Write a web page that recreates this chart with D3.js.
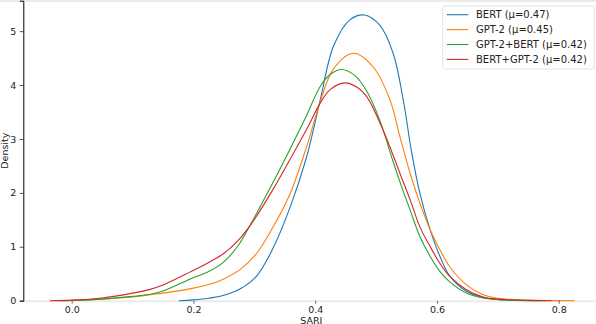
<!DOCTYPE html>
<html>
<head>
<meta charset="utf-8">
<script src="https://cdn.jsdelivr.net/npm/d3@7"></script>
<style>
  html, body { margin: 0; padding: 0; background: #ffffff; }
  svg { display: block; font-family: "DejaVu Sans", sans-serif; }
</style>
</head>
<body>
<div id="chart"></div>
<script>
// ---- data ----
const seriesNames = ["BERT (μ=0.47)", "GPT-2 (μ=0.45)", "GPT-2+BERT (μ=0.42)", "BERT+GPT-2 (μ=0.42)"];
const seriesColors = ["#1f77b4", "#ff7f0e", "#2ca02c", "#d62728"];

const bertX = [0.176, 0.2, 0.225, 0.25, 0.277, 0.304, 0.331, 0.359, 0.386, 0.408, 0.43, 0.457, 0.481, 0.506, 0.528, 0.545, 0.558, 0.572, 0.589, 0.605, 0.621, 0.649, 0.676, 0.703, 0.74, 0.78];
const bertY = [0, 0.015, 0.045, 0.10, 0.22, 0.46, 0.98, 1.74, 2.67, 3.71, 4.72, 5.21, 5.30, 5.11, 4.59, 3.70, 2.78, 1.99, 1.31, 0.82, 0.46, 0.17, 0.06, 0.02, 0.005, 0];

const gpt2X = [-0.01, 0.0, 0.05, 0.1, 0.129, 0.15, 0.194, 0.225, 0.249, 0.277, 0.304, 0.331, 0.359, 0.386, 0.408, 0.43, 0.463, 0.495, 0.523, 0.539, 0.556, 0.572, 0.589, 0.605, 0.621, 0.649, 0.676, 0.703, 0.75, 0.826];
const gpt2Y = [0, 0.005, 0.03, 0.07, 0.11, 0.14, 0.22, 0.30, 0.40, 0.58, 0.88, 1.37, 1.99, 2.86, 3.68, 4.30, 4.59, 4.34, 3.72, 3.05, 2.36, 1.81, 1.31, 0.94, 0.63, 0.29, 0.11, 0.04, 0.01, 0];

const gptBertX = [-0.02, 0.0, 0.05, 0.1, 0.129, 0.15, 0.194, 0.225, 0.249, 0.272, 0.296, 0.331, 0.359, 0.386, 0.408, 0.425, 0.443, 0.465, 0.485, 0.506, 0.526, 0.539, 0.556, 0.572, 0.589, 0.605, 0.621, 0.649, 0.676, 0.7, 0.77];
const gptBertY = [0, 0.005, 0.03, 0.08, 0.12, 0.18, 0.40, 0.54, 0.71, 1.00, 1.46, 2.20, 2.82, 3.44, 3.97, 4.20, 4.29, 4.18, 3.88, 3.35, 2.65, 2.21, 1.68, 1.19, 0.82, 0.54, 0.35, 0.14, 0.05, 0.02, 0];

const bertGptX = [-0.036, 0.0, 0.05, 0.1, 0.129, 0.15, 0.194, 0.225, 0.249, 0.272, 0.296, 0.331, 0.359, 0.386, 0.408, 0.425, 0.449, 0.47, 0.485, 0.509, 0.531, 0.539, 0.556, 0.572, 0.589, 0.605, 0.621, 0.649, 0.676, 0.7, 0.788];
const bertGptY = [0, 0.01, 0.05, 0.14, 0.21, 0.29, 0.53, 0.71, 0.87, 1.10, 1.44, 2.07, 2.63, 3.18, 3.66, 3.92, 4.04, 3.95, 3.78, 3.23, 2.61, 2.37, 1.87, 1.37, 1.00, 0.69, 0.45, 0.20, 0.07, 0.03, 0];

const xTicks = [0.0, 0.2, 0.4, 0.6, 0.8];
const yTicks = [0, 1, 2, 3, 4, 5];
const xLabel = "SARI";
const yLabel = "Density";

// ---- layout ----
const W = 596, H = 324;
const mLeft = 23.3, mRight = 599.3, mTop = 0.7, mBottom = 300.7;

const svg = d3.select("#chart").append("svg").attr("width", W).attr("height", H);

const x = d3.scaleLinear().domain([-0.0795, 0.8667]).range([mLeft, mRight]);
const y = d3.scaleLinear().domain([0, 5.565]).range([mBottom, mTop]);

// light spines (top and bottom)
svg.append("line").attr("x1", 0).attr("x2", W).attr("y1", 1).attr("y2", 1)
  .attr("stroke", "#ebebeb").attr("stroke-width", 2);
svg.append("line").attr("x1", mLeft).attr("x2", W).attr("y1", mBottom + 0.5).attr("y2", mBottom + 0.5)
  .attr("stroke", "#ebebeb").attr("stroke-width", 2);

// curves
const series = [
  { xs: bertX, ys: bertY },
  { xs: gpt2X, ys: gpt2Y },
  { xs: gptBertX, ys: gptBertY },
  { xs: bertGptX, ys: bertGptY }
];
const line = d3.line().x(d => x(d[0])).y(d => Math.min(y(d[1]), mBottom)).curve(d3.curveCatmullRom.alpha(0.5));
const plot = svg.append("g");
series.forEach((s, i) => {
  const pts = s.xs.map((v, j) => [v, s.ys[j]]);
  plot.append("path").attr("d", line(pts)).attr("fill", "none")
    .attr("stroke", seriesColors[i]).attr("stroke-width", 1.1);
});

// y axis
const yAxis = d3.axisLeft(y).tickValues(yTicks).tickFormat(d3.format("d")).tickSize(3.5).tickPadding(3.5);
const gy = svg.append("g").attr("transform", `translate(${mLeft},0)`).call(yAxis);
gy.select(".domain").attr("stroke", "#000").attr("stroke-width", 1);
gy.selectAll(".tick line").attr("stroke", "#222").attr("stroke-width", 0.8);
gy.selectAll(".tick text").attr("font-size", 9.5).attr("fill", "#222").attr("font-family", "DejaVu Sans");

// x axis
const xAxis = d3.axisBottom(x).tickValues(xTicks).tickFormat(d3.format(".1f")).tickSize(3).tickPadding(3);
const gx = svg.append("g").attr("transform", `translate(0,${mBottom})`).call(xAxis);
gx.select(".domain").remove();
gx.selectAll(".tick line").attr("stroke", "#444").attr("stroke-width", 0.8);
gx.selectAll(".tick text").attr("font-size", 9.5).attr("fill", "#222").attr("font-family", "DejaVu Sans");

// axis labels
svg.append("text").attr("x", (mLeft + mRight) / 2).attr("y", 323.5).attr("text-anchor", "middle")
  .attr("font-size", 9.5).attr("fill", "#222").text(xLabel);
svg.append("text").attr("transform", `translate(8,${(mTop + mBottom) / 2}) rotate(-90)`)
  .attr("text-anchor", "middle").attr("font-size", 9.5).attr("fill", "#222").text(yLabel);

// legend
const lg = svg.append("g");
lg.append("rect").attr("x", 442.7).attr("y", 6).attr("width", 151.6).attr("height", 63)
  .attr("rx", 2).attr("fill", "#ffffff").attr("fill-opacity", 0.8).attr("stroke", "#dcdcdc").attr("stroke-width", 0.8);
seriesNames.forEach((n, i) => {
  const yy = 14.7 + i * 14.9;
  lg.append("line").attr("x1", 446.7).attr("x2", 468.3).attr("y1", yy).attr("y2", yy)
    .attr("stroke", seriesColors[i]).attr("stroke-width", 1.1);
  lg.append("text").attr("x", 476).attr("y", yy + 3.6).attr("font-size", 10).attr("fill", "#222").text(n);
});
</script>
</body>
</html>
